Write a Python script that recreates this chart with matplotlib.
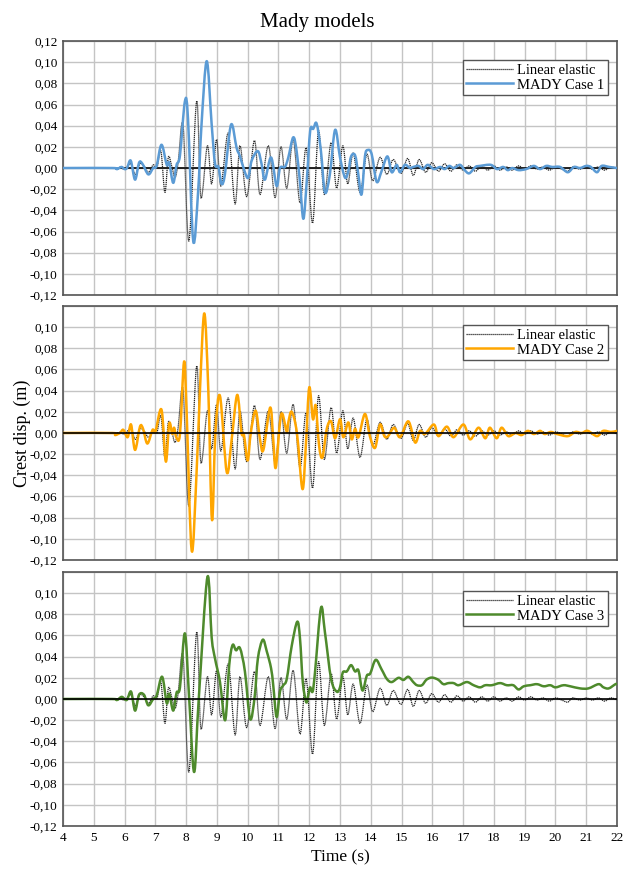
import numpy as np
import matplotlib
matplotlib.use("Agg")
import matplotlib.pyplot as plt
from matplotlib.ticker import FuncFormatter
from matplotlib.path import Path
from matplotlib.patches import PathPatch
from matplotlib.lines import Line2D

plt.rcParams['font.family'] = ['Liberation Serif', 'DejaVu Serif']

# linear elastic response (same in every panel)
t_lin = [4.0, 5.7, 5.85, 6.0, 6.2, 6.35, 6.5, 6.63, 6.78, 6.93, 7.05, 7.18, 7.31, 7.42, 7.53,
         7.64, 7.74, 7.9, 8.09, 8.34, 8.48, 8.69, 8.83, 8.99, 9.13, 9.37, 9.59, 9.75, 9.97,
         10.22, 10.4, 10.67, 10.89, 11.08, 11.27, 11.48, 11.7, 11.9, 12.11, 12.3, 12.49, 12.71,
         12.89, 13.09, 13.25, 13.43, 13.65, 13.87, 14.06, 14.3, 14.52, 14.73, 14.98, 15.2, 15.38,
         15.57, 15.78, 15.98, 16.2, 16.4, 16.6, 16.8, 17.0, 17.2, 17.4, 17.6, 17.8, 18.0, 18.2,
         18.4, 18.6, 18.8, 19.0, 19.2, 19.4, 19.6, 19.8, 20.0, 20.2, 20.4, 20.55, 20.8, 21.0,
         21.2, 21.4, 21.6, 21.8, 22.0]
d_lin = [0.0, 0.0, 0.001, -0.001, 0.004, -0.006, 0.004, 0.002, -0.004, 0.003, 0.0, 0.016, -0.023,
         0.010, 0.002, -0.009, 0.005, 0.041, -0.069, 0.063, -0.028, 0.021, -0.015, 0.027, -0.017,
         0.033, -0.034, 0.021, -0.027, 0.026, -0.025, 0.021, -0.028, 0.020, -0.019, 0.027, -0.033,
         0.019, -0.052, 0.035, -0.025, 0.024, -0.019, 0.021, -0.015, 0.014, -0.023, 0.013, -0.012,
         0.010, -0.006, 0.008, -0.005, 0.009, -0.007, 0.008, -0.004, 0.005, -0.003, 0.004, -0.003,
         0.003, -0.002, 0.002, -0.003, 0.002, -0.002, 0.002, -0.002, 0.001, -0.002, 0.002, -0.001,
         0.002, -0.001, 0.001, -0.002, 0.001, -0.001, -0.003, 0.001, -0.001, 0.001, -0.001, 0.001,
         -0.002, 0.001, -0.001]

# MADY case 1
t_c1 = [4.0, 5.6, 5.75, 5.9, 6.0, 6.08, 6.2, 6.34, 6.47, 6.58, 6.77, 6.93, 7.04, 7.2, 7.37, 7.45,
        7.58, 7.69, 7.8, 7.96, 8.06, 8.23, 8.39, 8.5, 8.67, 8.83, 8.94, 9.05, 9.15, 9.26, 9.46,
        9.64, 9.75, 9.91, 10.02, 10.13, 10.33, 10.45, 10.56, 10.76, 10.94, 11.05, 11.21, 11.32,
        11.48, 11.59, 11.7, 11.81, 11.92, 12.03, 12.13, 12.24, 12.38, 12.51, 12.67, 12.84, 13.0,
        13.16, 13.27, 13.36, 13.49, 13.59, 13.7, 13.81, 13.9, 14.03, 14.19, 14.35, 14.54, 14.68,
        14.84, 14.95, 15.11, 15.27, 15.38, 15.55, 15.7, 15.85, 16.05, 16.25, 16.4, 16.55, 16.7,
        16.9, 17.05, 17.2, 17.4, 17.55, 17.9, 18.1, 18.3, 18.45, 18.6, 18.8, 19.05, 19.3, 19.5,
        19.7, 19.9, 20.15, 20.4, 20.6, 20.8, 21.0, 21.15, 21.35, 21.5, 21.75, 22.0]
d_c1 = [0.0, 0.0, -0.001, 0.001, -0.001, 0.0, 0.007, -0.011, 0.005, 0.004, -0.006, 0.0, 0.002,
        0.022, 0.003, 0.005, -0.014, 0.003, 0.012, 0.063, 0.047, -0.069, -0.022, 0.041, 0.101,
        0.041, 0.004, 0.001, -0.015, -0.006, 0.041, 0.019, 0.011, -0.004, -0.009, 0.007, 0.016,
        0.004, -0.011, 0.010, -0.017, 0.0, 0.001, 0.010, 0.029, 0.016, -0.014, -0.048, -0.012,
        0.035, 0.037, 0.042, 0.016, -0.023, -0.006, 0.036, 0.010, -0.009, -0.003, 0.011, 0.012,
        -0.005, -0.025, 0.011, 0.017, 0.013, -0.013, -0.003, 0.011, -0.004, 0.003, -0.004, 0.003,
        0.0, 0.001, 0.002, -0.001, 0.003, -0.001, 0.001, -0.001, 0.002, 0.0, 0.003, -0.002,
        -0.005, 0.001, 0.002, 0.003, -0.001, 0.001, -0.002, 0.0, -0.002, -0.001, 0.002, -0.001,
        0.002, 0.001, 0.001, -0.004, 0.001, 0.0, 0.002, 0.001, -0.004, 0.002, 0.001, 0.0]

# MADY case 2
t_c2 = [4.0, 5.6, 5.69, 5.85, 5.96, 6.1, 6.21, 6.34, 6.5, 6.6, 6.74, 6.91, 7.0, 7.2, 7.34, 7.45,
        7.55, 7.61, 7.68, 7.8, 7.93, 8.01, 8.18, 8.34, 8.45, 8.59, 8.72, 8.84, 8.95, 9.1, 9.32,
        9.48, 9.66, 9.8, 9.88, 10.0, 10.1, 10.26, 10.4, 10.51, 10.73, 10.83, 10.91, 11.05, 11.13,
        11.27, 11.32, 11.43, 11.6, 11.78, 11.89, 12.0, 12.12, 12.21, 12.32, 12.43, 12.57, 12.71,
        12.84, 13.0, 13.11, 13.27, 13.38, 13.49, 13.6, 13.81, 13.97, 14.14, 14.3, 14.44, 14.56,
        14.76, 14.95, 15.22, 15.44, 15.6, 15.76, 16.05, 16.2, 16.47, 16.69, 17.01, 17.23, 17.5,
        17.72, 17.87, 18.09, 18.25, 18.47, 18.7, 18.9, 19.1, 19.3, 19.5, 19.65, 19.85, 20.05,
        20.4, 20.65, 20.85, 21.05, 21.35, 21.55, 21.8, 22.0]
d_c2 = [0.0, 0.0, -0.002, 0.0, 0.003, -0.004, 0.008, -0.016, 0.006, 0.004, -0.010, 0.003, 0.001,
        0.022, -0.027, 0.009, -0.001, 0.005, -0.004, -0.001, 0.067, 0.025, -0.111, -0.037, 0.041,
        0.113, 0.041, -0.082, 0.0, 0.035, -0.037, -0.006, 0.036, 0.0, -0.002, -0.026, 0.0, 0.021,
        -0.006, -0.016, 0.024, -0.006, -0.033, 0.010, 0.018, 0.001, 0.010, 0.020, 0.0, -0.053,
        -0.012, 0.043, 0.013, 0.026, -0.012, -0.023, 0.004, 0.011, -0.005, 0.013, -0.004, 0.010,
        -0.006, 0.004, -0.004, 0.018, -0.003, -0.014, 0.008, -0.003, -0.003, 0.005, -0.004, 0.011,
        -0.009, 0.002, -0.001, 0.008, -0.003, 0.006, -0.004, 0.008, -0.006, 0.005, -0.005, 0.005,
        -0.005, 0.005, -0.003, 0.0, -0.002, 0.002, -0.001, 0.002, -0.001, 0.001, -0.001, -0.003,
        0.001, 0.0, 0.002, -0.003, 0.002, 0.001, 0.002]

# MADY case 3
t_c3 = [4.0, 5.6, 5.75, 5.91, 6.07, 6.21, 6.34, 6.47, 6.63, 6.77, 6.93, 7.04, 7.22, 7.37, 7.45,
        7.58, 7.69, 7.8, 7.96, 8.1, 8.26, 8.41, 8.69, 8.83, 8.94, 9.1, 9.27, 9.4, 9.51, 9.62,
        9.75, 9.91, 10.08, 10.23, 10.33, 10.49, 10.62, 10.76, 10.83, 10.94, 11.05, 11.16, 11.27,
        11.43, 11.61, 11.7, 11.79, 11.9, 11.97, 12.03, 12.11, 12.19, 12.38, 12.51, 12.71, 12.89,
        13.0, 13.09, 13.22, 13.36, 13.49, 13.6, 13.73, 13.87, 13.98, 14.16, 14.35, 14.52, 14.68,
        14.9, 15.06, 15.22, 15.38, 15.5, 15.66, 15.8, 15.93, 16.04, 16.2, 16.36, 16.52, 16.69,
        16.85, 17.12, 17.34, 17.55, 17.72, 17.93, 18.2, 18.42, 18.63, 18.8, 18.97, 19.18, 19.4,
        19.62, 19.83, 20.0, 20.26, 20.48, 20.8, 21.07, 21.4, 21.56, 21.73, 21.95, 22.0]
d_c3 = [0.0, 0.0, -0.001, 0.002, -0.001, 0.007, -0.011, 0.004, 0.004, -0.006, 0.0, 0.003, 0.021,
        -0.004, 0.005, -0.011, 0.006, 0.011, 0.062, 0.0, -0.069, 0.0, 0.115, 0.058, 0.038, 0.016,
        -0.020, 0.032, 0.051, 0.046, 0.048, 0.026, -0.019, 0.003, 0.038, 0.056, 0.045, 0.029,
        0.013, -0.017, 0.007, 0.013, 0.019, 0.050, 0.073, 0.057, 0.016, -0.003, 0.004, 0.011,
        0.007, 0.026, 0.086, 0.063, 0.019, 0.007, 0.011, 0.025, 0.026, 0.032, 0.026, 0.027, 0.008,
        0.022, 0.024, 0.037, 0.028, 0.019, 0.016, 0.020, 0.018, 0.021, 0.016, 0.013, 0.013, 0.018,
        0.020, 0.020, 0.018, 0.014, 0.015, 0.015, 0.013, 0.016, 0.013, 0.011, 0.013, 0.013, 0.015,
        0.013, 0.013, 0.009, 0.012, 0.013, 0.014, 0.012, 0.013, 0.011, 0.013, 0.012, 0.010, 0.010,
        0.014, 0.011, 0.010, 0.014, 0.014]

cases = [(t_c1, d_c1, 'MADY Case 1', '#5b9bd5'),
         (t_c2, d_c2, 'MADY Case 2', '#ffa600'),
         (t_c3, d_c3, 'MADY Case 3', '#4e8a2c')]


def smooth_path(t, d):
    # Excel-style smoothed line: cubic Bezier segments passing through the data points
    p = np.column_stack([t, d])
    m = np.zeros_like(p)
    m[1:-1] = (p[2:] - p[:-2]) / 2
    m[0] = p[1] - p[0]
    m[-1] = p[-1] - p[-2]
    verts = [p[0]]
    codes = [Path.MOVETO]
    for k in range(len(p) - 1):
        verts += [p[k] + m[k] / 3, p[k + 1] - m[k + 1] / 3, p[k + 1]]
        codes += [Path.CURVE4] * 3
    return Path(verts, codes)


lin_style = dict(ls=(0, (1, 0.6)), color='#222222', lw=0.9)

fig = plt.figure(figsize=(6.34, 8.69), dpi=100)
bottoms = [0.6605, 0.3556, 0.0495]
comma = FuncFormatter(lambda v, p: f"{v:.2f}".replace('.', ','))

for i, (t, d, name, col) in enumerate(cases):
    ax = fig.add_axes([0.0994, bottoms[i], 0.8738, 0.2923])
    ax.axhline(0, color='black', lw=1.2, zorder=4 if i else 1.5)
    ax.add_patch(PathPatch(smooth_path(t_lin, d_lin), fill=False, edgecolor=lin_style['color'],
                           lw=lin_style['lw'], ls=lin_style['ls'], zorder=2))
    ax.add_patch(PathPatch(smooth_path(t, d), fill=False, edgecolor=col, lw=1.8, zorder=3,
                           capstyle='round', joinstyle='round'))
    ax.set_xlim(4, 22)
    ax.set_ylim(-0.12, 0.12)
    ax.set_xticks(range(4, 23))
    if i == 0:
        ax.set_yticks(np.arange(-0.12, 0.1201, 0.02))
    else:
        ax.set_yticks(np.arange(-0.12, 0.1001, 0.02))
        ax.set_yticks([0.12], minor=True)
    ax.yaxis.set_major_formatter(comma)
    ax.grid(True, which='both', color='#c4c4c4', lw=1.0)
    ax.set_axisbelow(True)
    ax.tick_params(which='both', labelsize=9.5, length=0, pad=4)
    if i < 2:
        ax.tick_params(labelbottom=False)
    for s in ax.spines.values():
        s.set_color('#555555')
        s.set_linewidth(1.2)
    handles = [Line2D([], [], **lin_style), Line2D([], [], color=col, lw=1.8)]
    leg = ax.legend(handles, ['Linear elastic', name], loc='upper right',
                    bbox_to_anchor=(0.984, 0.925), fontsize=10.5,
                    fancybox=False, edgecolor='#555555', framealpha=1, borderpad=0.25,
                    labelspacing=0.1, handlelength=3.2, handletextpad=0.3, borderaxespad=0)
    leg.get_frame().set_linewidth(1.0)
    if i == 1:
        ax.set_ylabel('Crest disp. (m)', fontsize=13, labelpad=-1)
    if i == 2:
        ax.set_xlabel('Time (s)', fontsize=12.5, labelpad=4)

fig.suptitle('Mady models', fontsize=15, y=0.985)
fig.savefig('out.png', dpi=100)
